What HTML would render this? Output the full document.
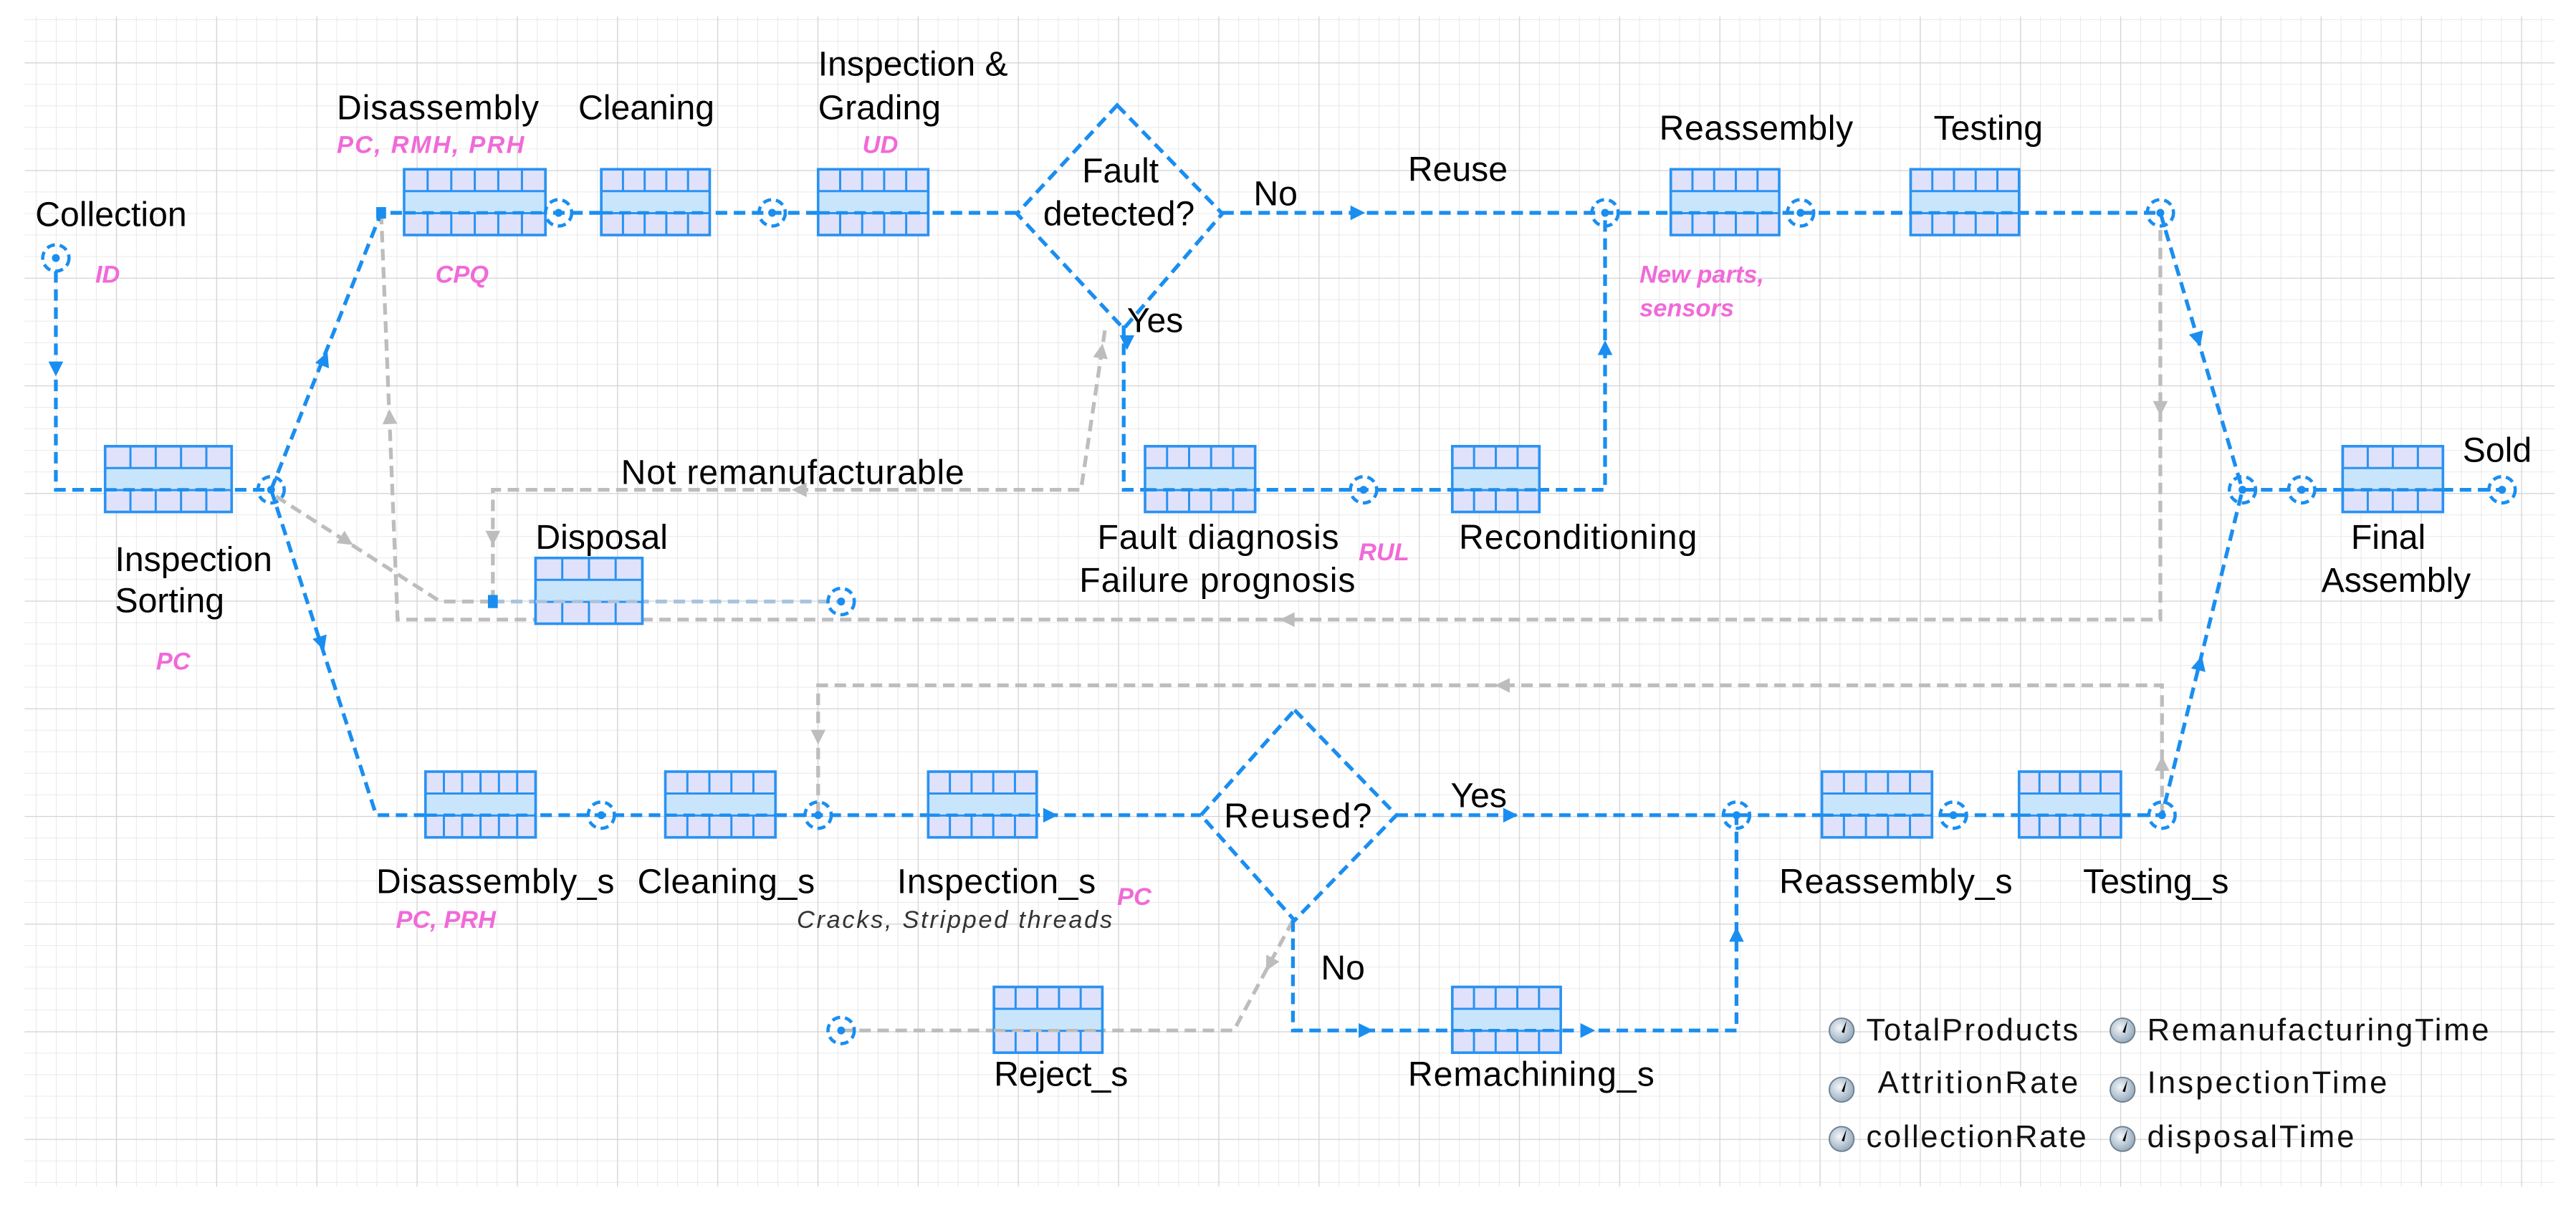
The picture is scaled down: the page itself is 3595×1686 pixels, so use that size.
<!DOCTYPE html>
<html><head><meta charset="utf-8"><style>
html,body{margin:0;padding:0;background:#fff;}
svg{display:block;}
.l{font-family:"Liberation Sans",Arial,sans-serif;font-size:21px;fill:#000;}
.p{font-family:"Liberation Sans",Arial,sans-serif;font-size:15px;font-weight:bold;font-style:italic;fill:#f06ad8;}
.g{font-family:"Liberation Sans",Arial,sans-serif;font-size:19px;fill:#111;}
.b{fill:none;stroke:#1a8ef0;stroke-width:2.3;stroke-dasharray:7 4;}
.gr{fill:none;stroke:#bdbdbd;stroke-width:2.3;stroke-dasharray:7 4;}
.bx rect.o{fill:#e0e2fb;stroke:#2a92f2;stroke-width:1.6;}
.bx rect.m{fill:#c9e5fb;}
.bx line{stroke:#2a92f2;stroke-width:1.3;}
</style></head><body>
<svg width="3595" height="1686" viewBox="0 0 1568 735" preserveAspectRatio="none" xmlns="http://www.w3.org/2000/svg">
<defs>
<pattern id="mi" x="9.6" y="-27.5" width="12.2" height="13.1" patternUnits="userSpaceOnUse">
<path d="M0 0V13.1M0 0H12.2" stroke="#e6e6e6" stroke-width="0.8" fill="none"/></pattern>
<pattern id="ma" x="9.6" y="-27.5" width="61" height="65.5" patternUnits="userSpaceOnUse">
<path d="M0 0V65.5M0 0H61" stroke="#d4d4d4" stroke-width="1.1" fill="none"/></pattern>
<polygon id="ah" points="1,0 -8,-4.5 -8,4.5"/>
<g id="nd"><circle r="8" fill="none" stroke="#1a8ef0" stroke-width="2" stroke-dasharray="5 3"/><circle r="2.4" fill="#1a8ef0"/></g>
<radialGradient id="ig" cx="0.4" cy="0.4" r="0.7"><stop offset="0" stop-color="#f2f6fa"/><stop offset="1" stop-color="#8aa0b4"/></radialGradient>
<g id="ic"><circle r="7.5" fill="url(#ig)" stroke="#6b7f90" stroke-width="0.8"/><path d="M0 1 L3 -6 L1.5 1.5Z" fill="#000"/></g>
</defs>
<rect width="1568" height="735" fill="#fff"/>
<rect x="15" y="10" width="1540" height="712" fill="url(#mi)"/>
<rect x="15" y="10" width="1540" height="712" fill="url(#ma)"/>

<!-- gray connectors -->
<path class="gr" d="M232 129.5 L242 377 H1315 V140"/>
<path class="gr" d="M168 302 L268 366 H300"/>
<path class="gr" d="M300 366 V298 H658 L673 198"/>
<path d="M300 366 H512" fill="none" stroke="#a9c3de" stroke-width="2.3" stroke-dasharray="7 4"/>
<path class="gr" d="M1316 496 V417 H498 V496"/>
<path class="gr" d="M787 560 L751 627 H512"/>
<g fill="#bdbdbd">
<use href="#ah" transform="translate(237,250) rotate(-92.3)"/>
<use href="#ah" transform="translate(780,377) rotate(180)"/>
<use href="#ah" transform="translate(1315,252) rotate(90)"/>
<use href="#ah" transform="translate(214,331) rotate(32.6)"/>
<use href="#ah" transform="translate(300,331) rotate(90)"/>
<use href="#ah" transform="translate(483,298) rotate(180)"/>
<use href="#ah" transform="translate(671,210) rotate(-81.5)"/>
<use href="#ah" transform="translate(1316,461) rotate(-90)"/>
<use href="#ah" transform="translate(911,417) rotate(180)"/>
<use href="#ah" transform="translate(498,452) rotate(90)"/>
<use href="#ah" transform="translate(771,590) rotate(118.2)"/>
</g>
<rect x="297" y="362" width="6" height="8" fill="#1a8ef0"/>

<!-- blue connectors -->
<path class="b" d="M34 165 V298 H165"/>
<path class="b" d="M165 298 L232 129.5 H619"/>
<path class="b" d="M744 129.5 H1315"/>
<path class="b" d="M684 198 V298 H977 V129.5"/>
<path class="b" d="M1315 129.5 L1365 298 H1523"/>
<path class="b" d="M165 298 L229 496 H731"/>
<path class="b" d="M850 496 H1316 L1365 298"/>
<path class="b" d="M787 560 V627 H1057 V496"/>
<rect x="229" y="126" width="6" height="7" fill="#1a8ef0"/>
<polygon class="b" points="680,64 744,130 684,200 619,130"/>
<polygon class="b" points="788,432 850,496 788,560 731,496"/>
<g fill="#1a8ef0">
<use href="#ah" transform="translate(34,228) rotate(90)"/>
<use href="#ah" transform="translate(199,215) rotate(-68.3)"/>
<use href="#ah" transform="translate(830,129.5)"/>
<use href="#ah" transform="translate(977,208) rotate(-90)"/>
<use href="#ah" transform="translate(1339,210) rotate(73.5)"/>
<use href="#ah" transform="translate(197,395) rotate(72.1)"/>
<use href="#ah" transform="translate(643,496)"/>
<use href="#ah" transform="translate(923,496)"/>
<use href="#ah" transform="translate(1340,400) rotate(-76.1)"/>
<use href="#ah" transform="translate(835,627)"/>
<use href="#ah" transform="translate(970,627)"/>
<use href="#ah" transform="translate(1057,565) rotate(-90)"/>
<use href="#ah" transform="translate(686,212) rotate(90)"/>
</g>

<!-- boxes -->
<g class="bx">
<!-- template: rect at x, y=ly-26.5, h 40 -->
<g transform="translate(64,271.5)"><rect class="o" width="77" height="40"/><rect class="m" x="0.8" y="13.3" width="75.4" height="13.4"/><line x1="0" y1="13.3" x2="77" y2="13.3"/><line x1="0" y1="26.7" x2="77" y2="26.7"/><path d="M15.4 0V13.3M30.8 0V13.3M46.2 0V13.3M61.6 0V13.3M15.4 26.7V40M30.8 26.7V40M46.2 26.7V40M61.6 26.7V40" stroke="#2a92f2" stroke-width="1.3"/></g>
<g transform="translate(246,103)"><rect class="o" width="86" height="40"/><rect class="m" x="0.8" y="13.3" width="84.4" height="13.4"/><line x1="0" y1="13.3" x2="86" y2="13.3"/><line x1="0" y1="26.7" x2="86" y2="26.7"/><path d="M14.3 0V13.3M28.7 0V13.3M43 0V13.3M57.3 0V13.3M71.7 0V13.3M14.3 26.7V40M28.7 26.7V40M43 26.7V40M57.3 26.7V40M71.7 26.7V40" stroke="#2a92f2" stroke-width="1.3"/></g>
<g transform="translate(366,103)"><rect class="o" width="66" height="40"/><rect class="m" x="0.8" y="13.3" width="64.4" height="13.4"/><line x1="0" y1="13.3" x2="66" y2="13.3"/><line x1="0" y1="26.7" x2="66" y2="26.7"/><path d="M13.2 0V13.3M26.4 0V13.3M39.6 0V13.3M52.8 0V13.3M13.2 26.7V40M26.4 26.7V40M39.6 26.7V40M52.8 26.7V40" stroke="#2a92f2" stroke-width="1.3"/></g>
<g transform="translate(498,103)"><rect class="o" width="67" height="40"/><rect class="m" x="0.8" y="13.3" width="65.4" height="13.4"/><line x1="0" y1="13.3" x2="67" y2="13.3"/><line x1="0" y1="26.7" x2="67" y2="26.7"/><path d="M13.4 0V13.3M26.8 0V13.3M40.2 0V13.3M53.6 0V13.3M13.4 26.7V40M26.8 26.7V40M40.2 26.7V40M53.6 26.7V40" stroke="#2a92f2" stroke-width="1.3"/></g>
<g transform="translate(1017,103)"><rect class="o" width="66" height="40"/><rect class="m" x="0.8" y="13.3" width="64.4" height="13.4"/><line x1="0" y1="13.3" x2="66" y2="13.3"/><line x1="0" y1="26.7" x2="66" y2="26.7"/><path d="M13.2 0V13.3M26.4 0V13.3M39.6 0V13.3M52.8 0V13.3M13.2 26.7V40M26.4 26.7V40M39.6 26.7V40M52.8 26.7V40" stroke="#2a92f2" stroke-width="1.3"/></g>
<g transform="translate(1163,103)"><rect class="o" width="66" height="40"/><rect class="m" x="0.8" y="13.3" width="64.4" height="13.4"/><line x1="0" y1="13.3" x2="66" y2="13.3"/><line x1="0" y1="26.7" x2="66" y2="26.7"/><path d="M13.2 0V13.3M26.4 0V13.3M39.6 0V13.3M52.8 0V13.3M13.2 26.7V40M26.4 26.7V40M39.6 26.7V40M52.8 26.7V40" stroke="#2a92f2" stroke-width="1.3"/></g>
<g transform="translate(697,271.5)"><rect class="o" width="67" height="40"/><rect class="m" x="0.8" y="13.3" width="65.4" height="13.4"/><line x1="0" y1="13.3" x2="67" y2="13.3"/><line x1="0" y1="26.7" x2="67" y2="26.7"/><path d="M13.4 0V13.3M26.8 0V13.3M40.2 0V13.3M53.6 0V13.3M13.4 26.7V40M26.8 26.7V40M40.2 26.7V40M53.6 26.7V40" stroke="#2a92f2" stroke-width="1.3"/></g>
<g transform="translate(884,271.5)"><rect class="o" width="53" height="40"/><rect class="m" x="0.8" y="13.3" width="51.4" height="13.4"/><line x1="0" y1="13.3" x2="53" y2="13.3"/><line x1="0" y1="26.7" x2="53" y2="26.7"/><path d="M13.25 0V13.3M26.5 0V13.3M39.75 0V13.3M13.25 26.7V40M26.5 26.7V40M39.75 26.7V40" stroke="#2a92f2" stroke-width="1.3"/></g>
<g transform="translate(1426,271.5)"><rect class="o" width="61" height="40"/><rect class="m" x="0.8" y="13.3" width="59.4" height="13.4"/><line x1="0" y1="13.3" x2="61" y2="13.3"/><line x1="0" y1="26.7" x2="61" y2="26.7"/><path d="M15.25 0V13.3M30.5 0V13.3M45.75 0V13.3M15.25 26.7V40M30.5 26.7V40M45.75 26.7V40" stroke="#2a92f2" stroke-width="1.3"/></g>
<g transform="translate(326,339.5)"><rect class="o" width="65" height="40"/><rect class="m" x="0.8" y="13.3" width="63.4" height="13.4"/><line x1="0" y1="13.3" x2="65" y2="13.3"/><line x1="0" y1="26.7" x2="65" y2="26.7"/><path d="M16.25 0V13.3M32.5 0V13.3M48.75 0V13.3M16.25 26.7V40M32.5 26.7V40M48.75 26.7V40" stroke="#2a92f2" stroke-width="1.3"/></g>
<g transform="translate(259,469.5)"><rect class="o" width="67" height="40"/><rect class="m" x="0.8" y="13.3" width="65.4" height="13.4"/><line x1="0" y1="13.3" x2="67" y2="13.3"/><line x1="0" y1="26.7" x2="67" y2="26.7"/><path d="M11.2 0V13.3M22.3 0V13.3M33.5 0V13.3M44.7 0V13.3M55.8 0V13.3M11.2 26.7V40M22.3 26.7V40M33.5 26.7V40M44.7 26.7V40M55.8 26.7V40" stroke="#2a92f2" stroke-width="1.3"/></g>
<g transform="translate(405,469.5)"><rect class="o" width="67" height="40"/><rect class="m" x="0.8" y="13.3" width="65.4" height="13.4"/><line x1="0" y1="13.3" x2="67" y2="13.3"/><line x1="0" y1="26.7" x2="67" y2="26.7"/><path d="M13.4 0V13.3M26.8 0V13.3M40.2 0V13.3M53.6 0V13.3M13.4 26.7V40M26.8 26.7V40M40.2 26.7V40M53.6 26.7V40" stroke="#2a92f2" stroke-width="1.3"/></g>
<g transform="translate(565,469.5)"><rect class="o" width="66" height="40"/><rect class="m" x="0.8" y="13.3" width="64.4" height="13.4"/><line x1="0" y1="13.3" x2="66" y2="13.3"/><line x1="0" y1="26.7" x2="66" y2="26.7"/><path d="M13.2 0V13.3M26.4 0V13.3M39.6 0V13.3M52.8 0V13.3M13.2 26.7V40M26.4 26.7V40M39.6 26.7V40M52.8 26.7V40" stroke="#2a92f2" stroke-width="1.3"/></g>
<g transform="translate(605,600.5)"><rect class="o" width="66" height="40"/><rect class="m" x="0.8" y="13.3" width="64.4" height="13.4"/><line x1="0" y1="13.3" x2="66" y2="13.3"/><line x1="0" y1="26.7" x2="66" y2="26.7"/><path d="M13.2 0V13.3M26.4 0V13.3M39.6 0V13.3M52.8 0V13.3M13.2 26.7V40M26.4 26.7V40M39.6 26.7V40M52.8 26.7V40" stroke="#2a92f2" stroke-width="1.3"/></g>
<g transform="translate(884,600.5)"><rect class="o" width="66" height="40"/><rect class="m" x="0.8" y="13.3" width="64.4" height="13.4"/><line x1="0" y1="13.3" x2="66" y2="13.3"/><line x1="0" y1="26.7" x2="66" y2="26.7"/><path d="M13.2 0V13.3M26.4 0V13.3M39.6 0V13.3M52.8 0V13.3M13.2 26.7V40M26.4 26.7V40M39.6 26.7V40M52.8 26.7V40" stroke="#2a92f2" stroke-width="1.3"/></g>
<g transform="translate(1109,469.5)"><rect class="o" width="67" height="40"/><rect class="m" x="0.8" y="13.3" width="65.4" height="13.4"/><line x1="0" y1="13.3" x2="67" y2="13.3"/><line x1="0" y1="26.7" x2="67" y2="26.7"/><path d="M13.4 0V13.3M26.8 0V13.3M40.2 0V13.3M53.6 0V13.3M13.4 26.7V40M26.8 26.7V40M40.2 26.7V40M53.6 26.7V40" stroke="#2a92f2" stroke-width="1.3"/></g>
<g transform="translate(1229,469.5)"><rect class="o" width="62" height="40"/><rect class="m" x="0.8" y="13.3" width="60.4" height="13.4"/><line x1="0" y1="13.3" x2="62" y2="13.3"/><line x1="0" y1="26.7" x2="62" y2="26.7"/><path d="M12.4 0V13.3M24.8 0V13.3M37.2 0V13.3M49.6 0V13.3M12.4 26.7V40M24.8 26.7V40M37.2 26.7V40M49.6 26.7V40" stroke="#2a92f2" stroke-width="1.3"/></g>
</g>
<!-- redraw blue lines over boxes (dashed through) -->
<g class="b" style="stroke-width:2">
<path d="M64 298 H141 M246 129.5 H332 M366 129.5 H432 M498 129.5 H565 M1017 129.5 H1083 M1163 129.5 H1229 M697 298 H764 M884 298 H937 M1426 298 H1487 M259 496 H326 M405 496 H472 M565 496 H631 M1109 496 H1176 M1229 496 H1291 M884 627 H950"/>
</g>
<path d="M326 366 H391" fill="none" stroke="#a9c3de" stroke-width="2" stroke-dasharray="7 4"/>
<path d="M605 627 H671" fill="none" stroke="#bdbdbd" stroke-width="2" stroke-dasharray="7 4"/>

<!-- nodes -->
<g>
<use href="#nd" x="34" y="157"/><use href="#nd" x="340" y="129.5"/><use href="#nd" x="470" y="129.5"/>
<use href="#nd" x="977" y="129.5"/><use href="#nd" x="1096" y="129.5"/><use href="#nd" x="1315" y="129.5"/>
<use href="#nd" x="165" y="298"/><use href="#nd" x="830" y="298"/><use href="#nd" x="1365" y="298"/>
<use href="#nd" x="1401" y="298"/><use href="#nd" x="1523" y="298"/><use href="#nd" x="512" y="366"/>
<use href="#nd" x="366" y="496"/><use href="#nd" x="498" y="496"/><use href="#nd" x="1057" y="496"/>
<use href="#nd" x="1189" y="496"/><use href="#nd" x="1316" y="496"/><use href="#nd" x="512" y="627"/>
</g>

<!-- labels -->
<text class="l" x="21.5" y="137.5">Collection</text>
<text class="p" x="58" y="172">ID</text>
<text class="l" x="205" y="72.5" textLength="123">Disassembly</text>
<text class="p" x="205" y="93" textLength="114">PC, RMH, PRH</text>
<text class="l" x="352" y="72.5">Cleaning</text>
<text class="l" x="498" y="46">Inspection &amp;</text>
<text class="l" x="498" y="72.5">Grading</text>
<text class="p" x="525" y="93">UD</text>
<text class="p" x="265" y="172">CPQ</text>
<text class="l" x="682" y="111" text-anchor="middle">Fault</text>
<text class="l" x="635" y="137">detected?</text>
<text class="l" x="763" y="125">No</text>
<text class="l" x="686" y="202">Yes</text>
<text class="l" x="857" y="110">Reuse</text>
<text class="l" x="1010" y="85" textLength="118">Reassembly</text>
<text class="l" x="1177" y="85">Testing</text>
<text class="p" x="998" y="172">New parts,</text>
<text class="p" x="998" y="192.5">sensors</text>
<text class="l" x="378" y="294.5" textLength="209">Not remanufacturable</text>
<text class="l" x="326" y="334">Disposal</text>
<text class="l" x="70" y="347.5">Inspection</text>
<text class="l" x="70" y="372.5">Sorting</text>
<text class="p" x="95" y="407.5">PC</text>
<text class="l" x="668" y="334" textLength="147">Fault diagnosis</text>
<text class="l" x="657" y="360" textLength="168">Failure prognosis</text>
<text class="p" x="827" y="341">RUL</text>
<text class="l" x="888" y="334" textLength="145">Reconditioning</text>
<text class="l" x="1499" y="281">Sold</text>
<text class="l" x="1431" y="334">Final</text>
<text class="l" x="1413" y="360">Assembly</text>
<text class="l" x="229" y="543.5" textLength="145">Disassembly_s</text>
<text class="p" x="241" y="564.6">PC, PRH</text>
<text class="l" x="388" y="543.5" textLength="108">Cleaning_s</text>
<text class="l" x="546" y="543.5" textLength="121">Inspection_s</text>
<text class="p" x="680" y="550.5">PC</text>
<text x="485" y="564.6" textLength="192" style="font-family:'Liberation Sans',Arial,sans-serif;font-size:15px;font-style:italic;fill:#333">Cracks, Stripped threads</text>
<text class="l" x="745" y="503.6" textLength="90">Reused?</text>
<text class="l" x="883" y="491">Yes</text>
<text class="l" x="804" y="596">No</text>
<text class="l" x="605" y="660.7">Reject_s</text>
<text class="l" x="857" y="660.7" textLength="150">Remachining_s</text>
<text class="l" x="1083" y="543.5" textLength="142">Reassembly_s</text>
<text class="l" x="1268" y="543.5">Testing_s</text>

<!-- legend -->
<use href="#ic" x="1121" y="627"/><text class="g" x="1136" y="633" textLength="129">TotalProducts</text>
<use href="#ic" x="1292" y="627"/><text class="g" x="1307" y="633" textLength="208">RemanufacturingTime</text>
<use href="#ic" x="1121" y="663"/><text class="g" x="1143" y="665" textLength="122">AttritionRate</text>
<use href="#ic" x="1292" y="663"/><text class="g" x="1307" y="665" textLength="146">InspectionTime</text>
<use href="#ic" x="1121" y="693"/><text class="g" x="1136" y="698" textLength="134">collectionRate</text>
<use href="#ic" x="1292" y="693"/><text class="g" x="1307" y="698" textLength="126">disposalTime</text>
</svg>
</body></html>
